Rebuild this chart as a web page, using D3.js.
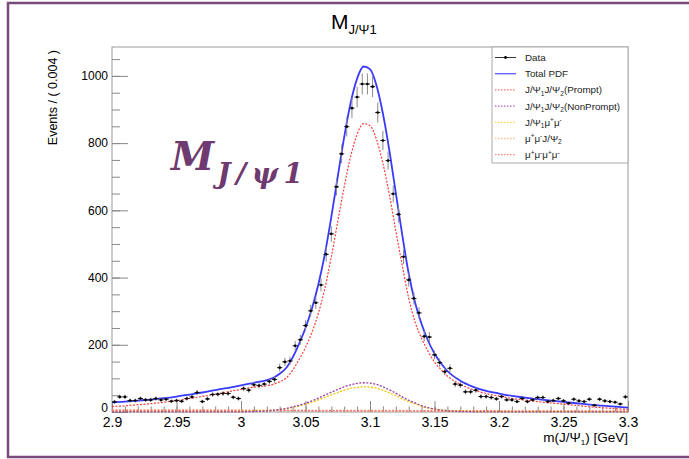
<!DOCTYPE html>
<html>
<head>
<meta charset="utf-8">
<script src="https://cdn.jsdelivr.net/npm/d3@7"></script>
<style>
  html, body { margin: 0; padding: 0; background: #fff; }
  svg { display: block; font-family: "Liberation Sans", Arial, Helvetica, sans-serif; }
</style>
</head>
<body>
<svg id="chart" width="689" height="459"></svg>
<script>
// ---------------- data ----------------
// Histogram: 100 bins of 0.004 GeV from 2.9 to 3.3 GeV
const binLow = 2.9;
const binWidth = 0.004;
const counts = [
  30, 45, 45, 34, 34, 40, 36, 36, 40, 36,
  38, 32, 34, 32, 40, 45, 58, 31, 39, 52,
  53, 55, 55, 44, 40, 70, 65, 81, 79, 83,
  91, 97, 132, 149, 152, 197, 215, 257, 301, 325,
  378, 469, 530, 670, 768, 849, 904, 937, 976, 976,
  968, 891, 808, 748, 649, 588, 462, 393, 338, 295,
  225, 223, 170, 147, 120, 130, 83, 80, 60, 60,
  65, 46, 46, 43, 39, 46, 36, 36, 31, 40,
  31, 36, 43, 43, 31, 34, 40, 33, 26, 38,
  33, 31, 38, 20, 38, 33, 31, 29, 24, 45
];

// Fit curves sampled along the mass axis (GeV)
const curveMass = [
  2.90, 2.91, 2.92, 2.93, 2.94, 2.95, 2.96, 2.97, 2.98, 2.99, 3.00, 3.01, 3.02,
  3.025, 3.03, 3.035, 3.04, 3.045, 3.05, 3.055, 3.06, 3.065, 3.07, 3.075, 3.08, 3.085, 3.09,
  3.095, 3.10, 3.105, 3.11, 3.115, 3.12, 3.125, 3.13, 3.135, 3.14, 3.145, 3.15, 3.155, 3.16,
  3.17, 3.18, 3.19, 3.20, 3.21, 3.22, 3.23, 3.24, 3.25, 3.26, 3.27, 3.28, 3.29, 3.30
];
const totalPdf = [
  29, 31, 34, 37, 41, 46, 52, 58, 65, 72, 79, 87, 95,
  102, 114, 131, 162, 203, 250, 308, 380, 470, 580, 700, 818, 920, 992,
  1028, 1020, 972, 888, 778, 652, 527, 412, 325, 262, 212, 174, 145, 122,
  93, 75, 63, 55, 48, 43, 38, 34, 30, 26, 22, 19, 16, 13
];
const promptPdf = [
  16.2, 18.4, 21.6, 24.7, 28.9, 34.0, 40.2, 46.2, 53.2, 60.3, 67.2, 73.8, 78.3,
  82.4, 89.9, 101.3, 124.1, 156, 192, 237, 294, 368, 461, 567, 670, 761, 826,
  858, 852, 811, 740, 647, 539, 436, 339, 267, 219, 180, 149, 126, 107,
  82.4, 66.1, 54.9, 47.2, 40.4, 35.7, 30.9, 27.1, 23.3, 19.5, 15.7, 12.9, 10.0, 7.2
];
const nonPromptPdf = [
  0.3, 0.3, 0.3, 0.3, 0.3, 0.4, 0.4, 0.4, 0.5, 0.5, 0.6, 1.4, 3.4,
  5, 7.5, 10.6, 15, 20, 26, 33, 41.5, 50, 59, 67, 75, 81, 85,
  87, 86, 82, 75, 66, 56, 45, 35, 27, 19, 13, 9, 6, 3.7,
  1.5, 0.7, 0.4, 0.4, 0.3, 0.3, 0.3, 0.3, 0.3, 0.3, 0.3, 0.3, 0.3, 0.3
];
const jpsiMuMuPdf = [
  1.0, 1.0, 1.0, 1.0, 1.0, 1.0, 1.0, 1.1, 1.2, 1.3, 1.5, 2.2, 3.9,
  5.3, 7.4, 10, 13.8, 18, 23, 29, 36, 43.5, 51, 58, 65, 70, 73,
  75, 74, 71, 65, 57, 49, 39, 31, 24, 17, 12, 8.7, 6.1, 4.1,
  2.3, 1.6, 1.3, 1.2, 1.2, 1.1, 1.1, 1.1, 1.0, 1.0, 1.0, 1.0, 1.0, 1.0
];
const muMuJpsiPdf = [
  6.5, 6.4, 6.3, 6.2, 6.1, 6.0, 5.9, 5.8, 5.7, 5.6, 5.5, 5.4, 5.3,
  5.25, 5.2, 5.15, 5.1, 5.05, 5.0, 4.95, 4.9, 4.85, 4.8, 4.75, 4.7, 4.65, 4.6,
  4.55, 4.5, 4.45, 4.4, 4.35, 4.3, 4.25, 4.2, 4.15, 4.1, 4.05, 4.0, 3.95, 3.9,
  3.8, 3.7, 3.6, 3.5, 3.4, 3.3, 3.2, 3.1, 3.0, 2.9, 2.8, 2.7, 2.6, 2.5
];
const fourMuPdf = [
  5.0, 4.9, 4.85, 4.8, 4.7, 4.6, 4.55, 4.5, 4.4, 4.3, 4.25, 4.2, 4.1,
  4.1, 4.0, 4.0, 4.0, 3.9, 3.9, 3.85, 3.8, 3.8, 3.75, 3.7, 3.65, 3.6, 3.6,
  3.55, 3.5, 3.45, 3.4, 3.4, 3.35, 3.3, 3.3, 3.25, 3.2, 3.15, 3.1, 3.1, 3.05,
  3.0, 2.9, 2.8, 2.75, 2.7, 2.6, 2.5, 2.45, 2.4, 2.3, 2.25, 2.15, 2.1, 2.0
];

// Axis ticks
const xMajorTicks = [2.9, 2.95, 3.0, 3.05, 3.1, 3.15, 3.2, 3.25, 3.3];
const xTickLabels = ["2.9", "2.95", "3", "3.05", "3.1", "3.15", "3.2", "3.25", "3.3"];
const xMinorTicks = d3.range(41).map(i => +(2.9 + i * 0.01).toFixed(3));
const yMajorTicks = [0, 200, 400, 600, 800, 1000];
const yTickLabels = ["0", "200", "400", "600", "800", "1000"];
const yMinorTicks = d3.range(22).map(i => i * 50);

// ---------------- layout ----------------
const svg = d3.select("#chart");
const x = d3.scaleLinear().domain([2.9, 3.3]).range([112, 628]);
const y = d3.scaleLinear().domain([0, 1086]).range([412, 47]);
const sans = "'Liberation Sans', Arial, Helvetica, sans-serif";

// Slide frame
svg.append("path")
  .attr("d", "M689,3 H8 V457 H689")
  .attr("fill", "none")
  .attr("stroke", "#7a4a7d")
  .attr("stroke-width", 2.5);

// Title  M_{J/Ψ1}
const title = svg.append("text").attr("x", 331).attr("y", 29).attr("fill", "#000")
  .style("font-family", sans);
title.append("tspan").attr("font-size", 21).text("M");
title.append("tspan").attr("font-size", 13).attr("dy", 5).text("J/Ψ1");

// Plot frame
svg.append("rect")
  .attr("x", x.range()[0]).attr("y", y.range()[1])
  .attr("width", x.range()[1] - x.range()[0])
  .attr("height", y.range()[0] - y.range()[1])
  .attr("fill", "none").attr("stroke", "#999").attr("stroke-width", 1);

// X axis: ticks point into the plot, labels below
const xAxisMinor = d3.axisBottom(x).tickValues(xMinorTicks).tickSize(-5.5).tickFormat("");
const xAxisMajor = d3.axisBottom(x).tickValues(xMajorTicks).tickSize(-11).tickPadding(5)
  .tickFormat((d, i) => xTickLabels[i]);
[xAxisMinor, xAxisMajor].forEach(ax => {
  const g = svg.append("g").attr("transform", `translate(0,${y(0)})`).call(ax);
  g.select(".domain").remove();
  g.selectAll(".tick line").attr("stroke", "#888");
  g.selectAll("text").attr("font-size", 14).attr("fill", "#000").style("font-family", sans);
});

// Y axis: ticks point into the plot, labels left
const yAxisMinor = d3.axisLeft(y).tickValues(yMinorTicks).tickSize(-8).tickFormat("");
const yAxisMajor = d3.axisLeft(y).tickValues(yMajorTicks).tickSize(-16).tickPadding(4)
  .tickFormat((d, i) => yTickLabels[i]);
[yAxisMinor, yAxisMajor].forEach(ax => {
  const g = svg.append("g").attr("transform", `translate(${x(2.9)},0)`).call(ax);
  g.select(".domain").remove();
  g.selectAll(".tick line").attr("stroke", "#888");
  g.selectAll("text").attr("font-size", 12).attr("fill", "#000").style("font-family", sans);
});
// lift the zero label a little so it clears the first x label
svg.selectAll("g .tick text").filter(function () { return this.textContent === "0"; })
  .attr("dy", "-0.08em");

// Axis titles
svg.append("text")
  .attr("transform", "translate(57,50) rotate(-90)")
  .attr("text-anchor", "end")
  .attr("font-size", 12.5)
  .style("font-family", sans)
  .text("Events / ( 0.004 )");

const xTitle = svg.append("text")
  .attr("x", 628).attr("y", 442)
  .attr("text-anchor", "end")
  .attr("font-size", 13.5)
  .style("font-family", sans);
xTitle.append("tspan").text("m(J/Ψ");
xTitle.append("tspan").attr("font-size", 8).attr("dy", 3).text("1");
xTitle.append("tspan").attr("dy", -3).text(") [GeV]");

// ---------------- curves ----------------
const series = [
  { values: muMuJpsiPdf,  color: "#ffb36b", width: 1.4, dash: "2,1.5" },
  { values: fourMuPdf,    color: "#ff6a6a", width: 1.4, dash: "2,1.5" },
  { values: jpsiMuMuPdf,  color: "#f5c400", width: 1.3, dash: "2,1.5" },
  { values: nonPromptPdf, color: "#9a3fa8", width: 1.3, dash: "2,1.5" },
  { values: promptPdf,    color: "#ff3c3c", width: 1.2, dash: "2,1.5" },
  { values: totalPdf,     color: "#3a3aff", width: 1.8, dash: null }
];
const line = d3.line()
  .x((d, i) => x(curveMass[i]))
  .y(d => y(d))
  .curve(d3.curveMonotoneX);
series.forEach(s => {
  svg.append("path")
    .datum(s.values)
    .attr("d", line)
    .attr("fill", "none")
    .attr("stroke", s.color)
    .attr("stroke-width", s.width)
    .attr("stroke-dasharray", s.dash);
});

// ---------------- data points ----------------
const points = counts.map((n, i) => ({
  m: binLow + (i + 0.5) * binWidth,
  lo: binLow + i * binWidth,
  hi: binLow + (i + 1) * binWidth,
  n: n,
  err: Math.sqrt(n)
}));
const gData = svg.append("g");
gData.selectAll("line.ey").data(points).join("line")
  .attr("class", "ey")
  .attr("x1", d => x(d.m)).attr("x2", d => x(d.m))
  .attr("y1", d => y(d.n - d.err)).attr("y2", d => y(d.n + d.err))
  .attr("stroke", "#8a8a8a").attr("stroke-width", 1);
gData.selectAll("line.ex").data(points).join("line")
  .attr("class", "ex")
  .attr("x1", d => x(d.lo)).attr("x2", d => x(d.hi))
  .attr("y1", d => y(d.n)).attr("y2", d => y(d.n))
  .attr("stroke", "#222").attr("stroke-width", 1);
gData.selectAll("circle").data(points).join("circle")
  .attr("cx", d => x(d.m)).attr("cy", d => y(d.n))
  .attr("r", 1.3).attr("fill", "#000");

// ---------------- legend ----------------
const legendEntries = [
  { parts: [["Data"]], color: "#000", dash: null, marker: true },
  { parts: [["Total PDF"]], color: "#5a5aff", dash: null },
  { parts: [["J/Ψ"], ["1", "sub"], ["J/Ψ"], ["2", "sub"], ["(Prompt)"]], color: "#ff7070", dash: "1.5,1.5" },
  { parts: [["J/Ψ"], ["1", "sub"], ["J/Ψ"], ["2", "sub"], ["(NonPrompt)"]], color: "#b060c0", dash: "1.5,1.5" },
  { parts: [["J/Ψ"], ["1", "sub"], ["μ"], ["+", "sup"], ["μ"], ["-", "sup"]], color: "#ffd040", dash: "1.5,1.5" },
  { parts: [["μ"], ["+", "sup"], ["μ"], ["-", "sup"], ["J/Ψ"], ["2", "sub"]], color: "#ffc090", dash: "1.5,1.5" },
  { parts: [["μ"], ["+", "sup"], ["μ"], ["-", "sup"], ["μ"], ["+", "sup"], ["μ"], ["-", "sup"]], color: "#ff8080", dash: "1.5,1.5" }
];
const lg = svg.append("g");
lg.append("rect")
  .attr("x", 492).attr("y", 47).attr("width", 136).attr("height", 116)
  .attr("fill", "#fff").attr("stroke", "#aaa").attr("stroke-width", 1);
legendEntries.forEach((e, i) => {
  const cy = 57.5 + i * 16.2;
  lg.append("line")
    .attr("x1", 495).attr("x2", 516).attr("y1", cy).attr("y2", cy)
    .attr("stroke", e.color).attr("stroke-width", e.marker ? 0.8 : 1.3)
    .attr("stroke-dasharray", e.dash);
  if (e.marker) {
    lg.append("circle").attr("cx", 505.5).attr("cy", cy).attr("r", 1.4).attr("fill", "#000");
  }
  const t = lg.append("text").attr("x", 525).attr("y", cy + 3.4)
    .attr("font-size", 9.8).attr("fill", "#222").style("font-family", sans);
  let shift = 0;
  e.parts.forEach(([txt, kind]) => {
    const target = kind === "sub" ? 2.5 : kind === "sup" ? -3.5 : 0;
    const ts = t.append("tspan").text(txt).attr("dy", target - shift);
    if (kind) ts.attr("font-size", 6.5);
    shift = target;
  });
});

// ---------------- annotation ----------------
const note = svg.append("text")
  .attr("x", 171).attr("y", 170)
  .attr("fill", "#6e3a6f")
  .style("font-family", "'DejaVu Serif', serif")
  .style("font-weight", "bold")
  .style("font-style", "italic");
note.append("tspan").style("font-size", "39px").text("M");
note.append("tspan").style("font-size", "28px").attr("dy", 13).attr("dx", 3)
  .style("letter-spacing", "5.5px").text("J/ψ1");
</script>
</body>
</html>
